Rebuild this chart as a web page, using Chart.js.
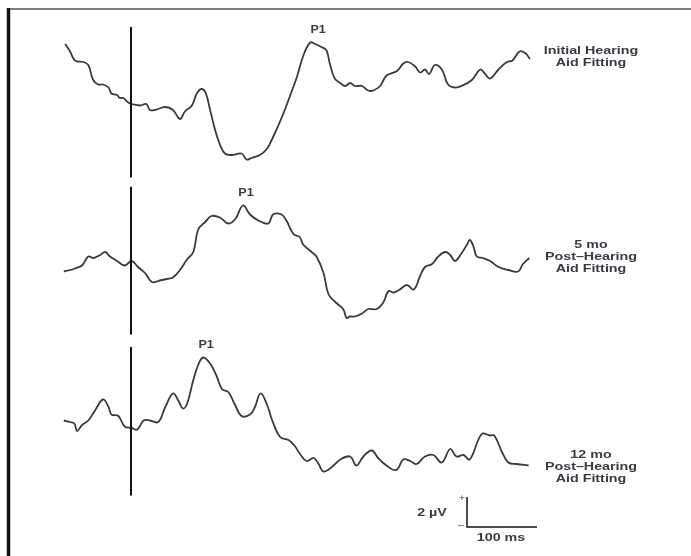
<!DOCTYPE html>
<html>
<head>
<meta charset="utf-8">
<script src="https://cdn.jsdelivr.net/npm/chart.js@4"></script>
<style>
 html,body{margin:0;padding:0;background:#fff;}
 #wrap{width:691px;height:556px;}
</style>
</head>
<body>
<div id="wrap"><canvas id="erp" width="691" height="556"></canvas></div>
<script>
// time in ms (0 = stimulus onset), amplitude in microvolts (up = positive)
const initialT=[-94,-87,-80,-68,-61,-54,-47,-40,-32,-28,-20,-16,-11,-4,1,13,22,27,34,49,60,70,77,87,94,101,107,113,120,127,134,144,158,165,172,184,194,203,218,230,237,246,256,263,272,279,284,291,299,306,313,320,330,339,346,356,365,380,389,396,406,413,420,426,434,444,453,463,472,487,499,506,513,525,537,545,555,563,570];
const initialV=[4.0,3.5,2.9,2.8,2.6,1.6,1.3,1.3,1.1,0.7,0.6,0.4,0.4,0.1,0,-0.1,0,-0.4,-0.4,-0.2,-0.4,-1.0,-0.5,-0.1,0.7,1.0,0.7,-0.4,-1.7,-2.7,-3.3,-3.4,-3.3,-3.7,-3.6,-3.4,-3.0,-2.2,-0.6,0.9,1.8,3.2,4.1,4.0,3.8,3.6,2.7,1.7,1.4,1.2,1.4,1.2,1.2,0.9,0.9,1.2,1.9,2.2,2.7,2.8,2.5,2.1,2.3,2.0,2.6,2.3,1.3,1.1,1.2,1.6,2.3,2.0,1.7,2.3,2.8,2.9,3.5,3.4,3.0];

const fiveMoT=[-96,-87,-80,-70,-61,-54,-44,-37,-30,-20,-9,1,10,20,30,41,51,60,70,80,89,96,106,115,127,139,149,160,170,182,196,203,215,222,232,241,246,258,265,275,282,291,303,308,313,320,330,339,351,360,368,375,384,394,404,413,420,430,439,449,456,463,472,480,484,489,494,503,513,525,539,553,560,569];
const fiveMoV=[-0.7,-0.6,-0.5,-0.3,0.3,0.2,0.4,0.6,0.3,0,-0.3,0,-0.4,-0.8,-1.4,-1.3,-1.2,-1.1,-0.6,0.1,0.6,2.1,2.6,3.0,2.9,2.5,2.8,3.7,3.1,2.7,2.5,3.1,3.1,2.7,1.8,1.6,1.1,0.6,0.3,-0.8,-2.2,-2.7,-3.2,-3.8,-3.7,-3.7,-3.5,-3.2,-3.2,-2.8,-2.0,-2.1,-1.9,-1.6,-1.9,-1.0,-0.4,-0.2,0.3,0.6,0.4,0,0.5,1.1,1.4,1.0,0.3,0.2,0,-0.4,-0.6,-0.7,-0.2,0.2];

const twelveMoT=[-96,-87,-81,-77,-70,-61,-51,-40,-32,-28,-18,-9,1,9,18,27,39,49,60,68,74,80,89,96,103,113,122,130,139,149,158,170,177,185,194,201,213,225,234,241,251,261,268,275,287,299,313,322,332,344,353,365,379,389,399,408,420,432,444,456,465,475,484,501,513,519,530,539,551,568];
const twelveMoV=[0.5,0.4,0.3,-0.2,0.2,0.5,1.2,1.9,1.4,0.9,0.8,0.1,0,-0.1,0.5,0.5,0.4,1.4,2.3,1.8,1.3,1.6,3.2,4.2,4.7,4.3,3.5,2.6,2.4,1.5,0.8,0.9,1.4,2.3,1.6,0.6,-0.6,-0.8,-1.2,-1.7,-2.2,-2.0,-2.4,-2.9,-2.6,-2.1,-1.9,-2.5,-1.9,-1.5,-2.0,-2.5,-2.8,-2.1,-2.2,-2.4,-1.9,-1.8,-2.3,-1.4,-1.9,-1.8,-2.1,-0.4,-0.5,-0.5,-1.6,-2.3,-2.4,-2.5];

const traceLabels=[['Initial Hearing','Aid Fitting'],['5 mo','Post\u2013Hearing','Aid Fitting'],['12 mo','Post\u2013Hearing','Aid Fitting']];
const peakLabel='P1';

// layout: 0.7 px per ms, 15 px per microvolt, onset at x=131
const pxMs=0.7, pxUv=15, onsetX=131;
const W=691, H=556;
const baseY=[104,261,428];          // pixel baseline of each trace
const off=baseY.map(b=>-b/pxUv);    // in µV on the shared axis

function pts(t,v,o){return t.map((x,i)=>({x:x,y:v[i]+o}));}
const lineStyle={borderColor:'#3a3a3a',borderWidth:1.8,pointRadius:0,tension:0.4,fill:false};

const deco={
 id:'deco',
 afterDatasetsDraw(chart){
  const c=chart.ctx, xs=chart.scales.x, ys=chart.scales.y;
  const X=t=>xs.getPixelForValue(t), Y=v=>ys.getPixelForValue(v);
  c.save();
  // frame
  c.strokeStyle='#555';c.lineWidth=1.5;
  c.beginPath();c.moveTo(7,9);c.lineTo(W,9);c.stroke();
  c.strokeStyle='#111';c.lineWidth=3.5;
  c.beginPath();c.moveTo(8.5,8);c.lineTo(8.5,H);c.stroke();
  // onset markers
  const spans=[[5.13,-4.9],[4.95,-4.9],[5.4,-4.5]];
  c.strokeStyle='#111';c.lineWidth=2;
  spans.forEach((s,i)=>{c.beginPath();c.moveTo(X(0),Y(s[0]+off[i]));c.lineTo(X(0),Y(s[1]+off[i]));c.stroke();});
  // calibration bar: 100 ms x 2 µV
  const bx=480, bv=-6.6+off[2];
  c.lineWidth=1.5;c.strokeStyle='#111';
  c.beginPath();c.moveTo(X(bx),Y(bv+2));c.lineTo(X(bx),Y(bv));c.lineTo(X(bx+100),Y(bv));c.stroke();
  // text
  c.fillStyle='#3a3a44';c.textAlign='center';c.textBaseline='middle';
  const txt=(s,x,y,sx)=>{c.save();c.translate(x,y);c.scale(sx,1);c.fillText(s,0,0);c.restore();};
  c.font='bold 10.5px "Liberation Sans", Arial, sans-serif';
  const labY=[[51,63.5],[245.5,257.5,269.5],[455,467,479]];
  traceLabels.forEach((lines,i)=>lines.forEach((s,j)=>txt(s,591,labY[i][j],1.36)));
  txt('2 \u00b5V',432,513,1.36);
  txt('100 ms',501,538,1.36);
  c.font='9px "Liberation Sans", Arial, sans-serif';
  txt('+',462,499,1.2);
  txt('\u2013',461,526,1.2);
  c.font='bold 10px "Liberation Sans", Arial, sans-serif';
  const peaks=[[263,4.1],[160,3.7],[103,4.7]];
  peaks.forEach((p,i)=>txt(peakLabel,X(p[0])+3,Y(p[1]+off[i])-12,1.25));
  c.restore();
 }
};

new Chart(document.getElementById('erp'),{
 type:'line',
 data:{datasets:[
  {label:'Initial',data:pts(initialT,initialV,off[0]),...lineStyle},
  {label:'5 mo',data:pts(fiveMoT,fiveMoV,off[1]),...lineStyle},
  {label:'12 mo',data:pts(twelveMoT,twelveMoV,off[2]),...lineStyle}
 ]},
 options:{
  responsive:false,animation:false,
  layout:{padding:0},
  plugins:{legend:{display:false},tooltip:{enabled:false}},
  scales:{
   x:{type:'linear',display:false,min:-onsetX/pxMs,max:(W-onsetX)/pxMs},
   y:{type:'linear',display:false,min:-H/pxUv,max:0}
  }
 },
 plugins:[deco]
});
</script>
</body>
</html>
